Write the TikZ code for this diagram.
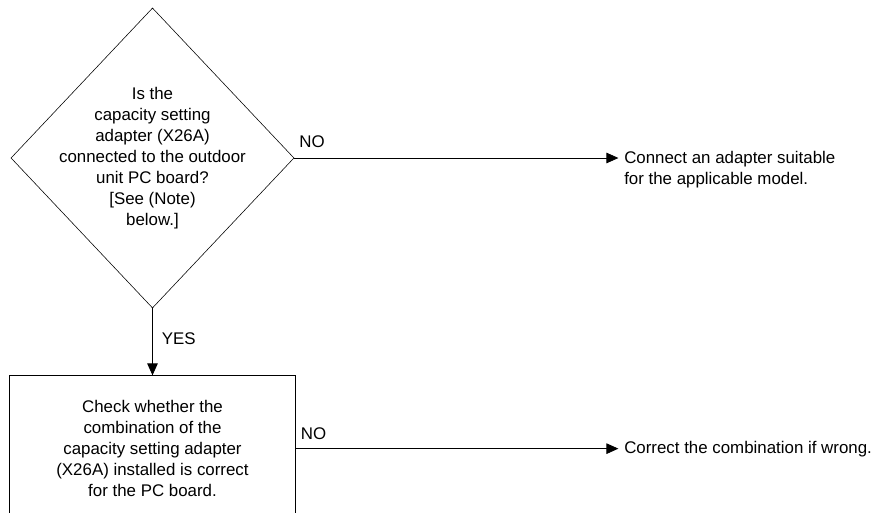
\documentclass[tikz,border=0pt]{standalone}
\usepackage{fontspec}
\setmainfont{Liberation Sans}
\usetikzlibrary{arrows.meta,positioning,shapes.geometric}

\begin{document}
\begin{tikzpicture}[
  x=0.025cm, y=-0.025cm,
  font=\fontsize{12}{14.9}\selectfont,
  decision/.style={
    draw,
    diamond,
    inner sep=0pt,
    minimum width=7.075cm,
    minimum height=7.5cm
  },
  box/.style={
    draw,
    align=center,
    minimum width=7.15cm,
    minimum height=3.65cm
  },
  note/.style={align=left, anchor=west, inner sep=0pt},
  line/.style={-{Triangle[length=8.5pt,width=7.5pt]}, line width=0.6pt}
]
\clip (0,0) rectangle (883,513);
\node[decision] (chk) at (152.5,158) {};
\node[align=center] (chktxt) at (chk.center) {Is the\\capacity setting\\adapter (X26A)\\connected to the outdoor\\unit PC board?\\{[}See (Note)\\below.{]}};
\node[box,below=1.675cm of chk] (comb) {Check whether the\\combination of the\\capacity setting adapter\\(X26A) installed is correct\\for the PC board.};
\node[note] (fixA) at (624,169.5) {Connect an adapter suitable\\for the applicable model.};
\node[note] (fixB) at (624,0 |- comb.east) {Correct the combination if wrong.};

\draw[line,shorten >=4pt] (chk.east) -- node[pos=0,above right,yshift=4pt] {NO} (chk.east -| fixA.west);
\draw[line] (chk) -- node[pos=0.45,right,xshift=3pt] {YES} (comb);
\draw[line,shorten >=4pt] (comb.east) -- node[pos=0,above right,yshift=3pt] {NO} (comb.east -| fixB.west);
\end{tikzpicture}
\end{document}
